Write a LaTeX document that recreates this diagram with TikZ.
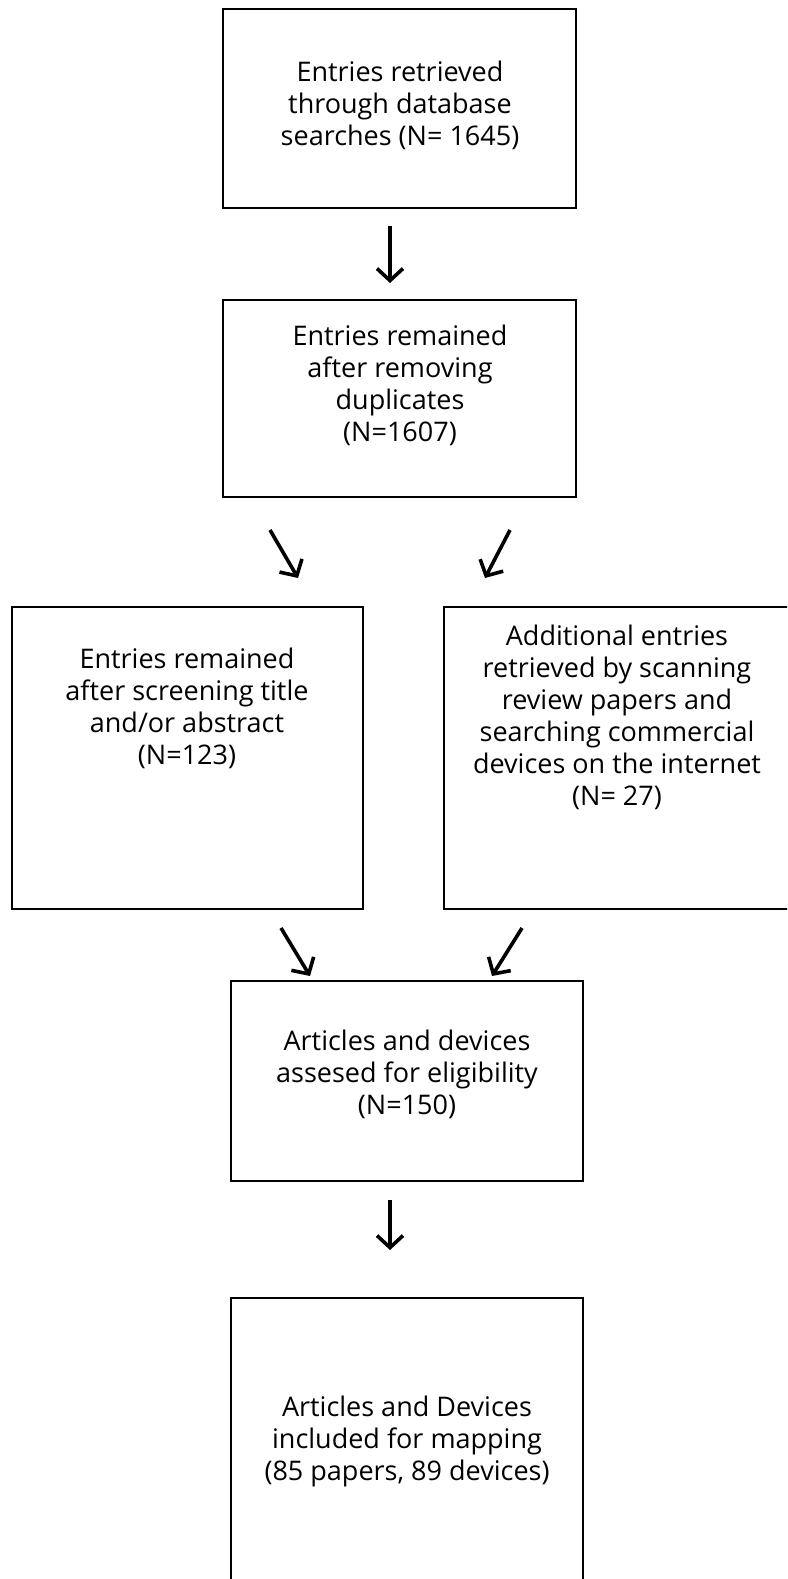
\documentclass[tikz,border=0pt]{standalone}
\usepackage{fontspec}
\setmainfont{Open Sans}
\usetikzlibrary{positioning}
\usetikzlibrary{arrows.meta}

\begin{document}
\begin{tikzpicture}[x=1pt,y=-1pt,>={Straight Barb[length=12pt,width=26pt]},
  framebox/.style={draw,line width=2.8pt,rectangle,inner sep=0pt},
  boxtext/.style={align=center,inner sep=0pt,font=\fontsize{27}{32}\selectfont},
  flow/.style={->,line width=3.6pt}]
\useasboundingbox (0,0) rectangle (787,1579);
\clip (0,0) rectangle (787,1579);
% boxes
\node[framebox,minimum width=353,minimum height=199] at (399.5,108.5) (search) {};
\node[framebox,minimum width=353,minimum height=197] at (399.5,398.5) (dedup) {};
\node[framebox,minimum width=351,minimum height=302] at (187.5,758) (screen) {};
\node[framebox,minimum width=346,minimum height=302] at (617,758) (extra) {};
\node[framebox,minimum width=352,minimum height=200] at (407,1081) (elig) {};
\node[framebox,minimum width=352,minimum height=300] at (407,1448) (incl) {};
% texts
\node[boxtext] at (400,105) (searchtxt) {Entries retrieved\\through database\\searches (N= 1645)};
\node[boxtext] at (400,385) (deduptxt) {Entries remained\\after removing\\duplicates\\(N=1607)};
\node[boxtext] at (187,708) (screentxt) {Entries remained\\after screening title\\and/or abstract\\(N=123)};
\node[boxtext] at (617,717) (extratxt) {Additional entries\\retrieved by scanning\\review papers and\\searching commercial\\devices on the internet\\(N= 27)};
\node[boxtext] at (407,1074) (eligtxt) {Articles and devices\\assesed for eligibility\\(N=150)};
\node[boxtext] at (407,1441) (incltxt) {Articles and Devices\\included for mapping\\(85 papers, 89 devices)};
% arrows
\coordinate (a1s) at (390,226);
\coordinate (a1e) at (390,283);
\coordinate (a2s) at (270,530);
\coordinate (a2e) at (298,578);
\coordinate (a3s) at (510,530);
\coordinate (a3e) at (485,578);
\coordinate (a4s) at (281,928);
\coordinate (a4e) at (310,976);
\coordinate (a5s) at (522,928);
\coordinate (a5e) at (492,976);
\coordinate (a6s) at (390,1200);
\coordinate (a6e) at (390,1250);
\draw[flow] (a1s) -- (a1e);
\draw[flow] (a2s) -- (a2e);
\draw[flow] (a3s) -- (a3e);
\draw[flow] (a4s) -- (a4e);
\draw[flow] (a5s) -- (a5e);
\draw[flow] (a6s) -- (a6e);
\end{tikzpicture}
\end{document}
